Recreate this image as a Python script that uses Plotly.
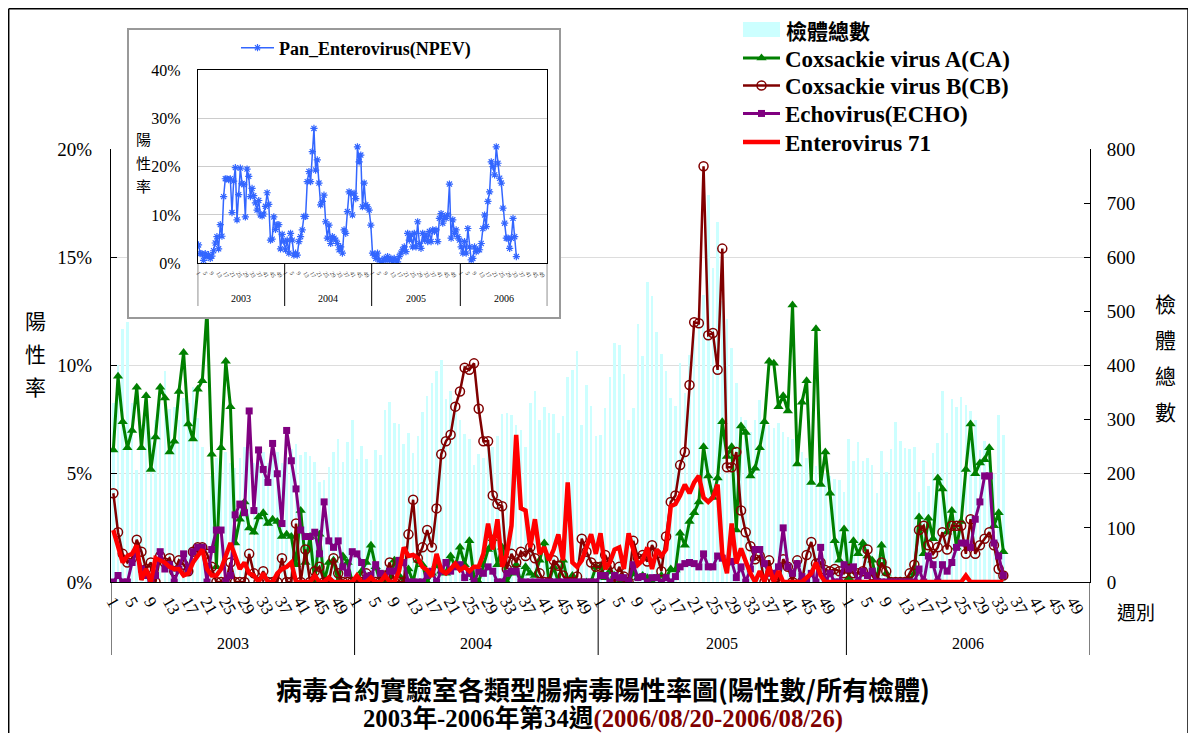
import plotly.graph_objects as go

# ---------------- data ----------------
YEARS = ["2003", "2004", "2005", "2006"]
WEEKS_PER_YEAR = [52, 52, 53, 52]
TICK_WEEKS = list(range(1, 50, 4))

# total specimens (right axis)
SPEC_2003 = [330, 401, 467, 481, 330, 207, 290, 310, 270, 300, 330, 390, 320, 324, 300, 340, 330, 361, 303, 250,
             152, 195, 230, 250, 240, 220, 210, 230, 250, 240, 220, 230, 240, 220, 230, 240, 220, 230, 245, 255,
             235, 241, 232, 222, 184, 188, 213, 240, 265, 222, 259, 300]
SPEC_2004 = [228, 251, 227, 115, 244, 235, 318, 333, 293, 292, 255, 275, 238, 270, 315, 344, 368, 389, 410, 339,
             352, 330, 300, 273, 265, 216, 236, 230, 260, 250, 270, 310, 313, 309, 290, 280, 250, 330, 352, 300,
             324, 313, 310, 275, 307, 378, 392, 427, 291, 364, 325, 270]
SPEC_2005 = [272, 321, 379, 441, 437, 384, 300, 321, 477, 418, 554, 529, 461, 421, 390, 340, 325, 404, 350, 420,
             470, 500, 530, 715, 580, 665, 520, 485, 432, 367, 304, 300, 278, 300, 336, 300, 290, 284, 293, 278,
             268, 265, 262, 241, 230, 220, 215, 205, 200, 195, 190, 188, 167]
SPEC_2006 = [264, 223, 258, 224, 230, 216, 164, 242, 204, 246, 295, 260, 248, 246, 250, 167, 226, 177, 238, 256,
             353, 275, 338, 323, 341, 327, 316, 300, 244, 260, 250, 200, 309, 272]

# positive rates (%)
CA_2003 = [6.1, 9.5, 7.4, 6.2, 7.0, 9.0, 6.2, 8.6, 5.2, 6.7, 9.0, 8.5, 6.0, 6.5, 8.8, 10.6, 7.3, 6.6, 8.9, 9.3,
           12.6, 5.9, 0.7, 6.2, 10.2, 8.1, 1.8, 2.9, 3.7, 2.5, 2.3, 3.0, 3.2, 2.7, 2.9, 2.8, 2.1, 2.2, 2.1, 0.8,
           3.3, 0.9, 2.1, 0.0, 2.2, 0.0, 0.9, 1.0, 0.0, 1.2, 0.9, 0.0]
CA_2004 = [0.0, 0.5, 0.9, 1.7, 0.7, 0.0, 0.0, 0.0, 1.0, 0.3, 0.0, 0.6, 0.0, 1.0, 0.8, 0.0, 0.4, 0.8, 0.5, 0.4,
           1.2, 0.7, 1.6, 0.8, 1.9, 0.2, 0.0, 0.8, 1.5, 2.0, 0.8, 1.6, 0.0, 0.4, 0.8, 0.0, 0.7, 0.4, 0.3, 1.0,
           1.8, 0.0, 0.7, 0.0, 1.0, 0.0, 0.3, 0.0, 0.0, 0.0, 0.0, 0.7]
CA_2005 = [0.7, 0.2, 0.5, 0.3, 0.0, 0.0, 0.0, 0.4, 0.2, 0.3, 0.2, 0.0, 0.2, 0.3, 0.2, 0.6, 0.55, 2.25, 1.7, 2.8,
           3.2, 3.7, 6.25, 4.9, 3.9, 4.8, 7.4, 5.8, 6.25, 2.4, 7.2, 6.9, 4.9, 5.25, 6.2, 7.4, 10.2, 10.1, 8.1, 8.6,
           7.9, 12.8, 5.45, 8.3, 9.3, 4.6, 11.7, 4.5, 6.0, 4.1, 1.9, 1.0, 2.45]
CA_2006 = [0.2, 1.9, 1.3, 1.8, 1.2, 1.0, 0.0, 1.7, 0.4, 0.0, 0.0, 0.0, 0.0, 0.1, 0.4, 3.0, 1.3, 2.95, 2.0, 4.8,
           4.3, 2.3, 3.3, 1.6, 2.8, 5.2, 7.3, 5.0, 5.5, 5.65, 6.2, 2.6, 3.2, 1.4]

CB_2003 = [4.1, 2.3, 1.3, 0.9, 1.1, 1.95, 1.4, 0.6, 0.9, 0.0, 1.2, 0.9, 1.1, 0.5, 1.0, 0.8, 0.5, 1.4, 1.6, 1.6,
           1.3, 0.7, 0.0, 0.0, 0.0, 0.9, 0.0, 0.0, 0.0, 1.3, 0.4, 0.0, 0.5, 0.0, 0.0, 0.0, 1.1, 0.0, 0.0, 2.7,
           0.0, 1.5, 0.0, 0.5, 0.7, 0.0, 0.0, 1.1, 0.4, 0.0, 0.0, 0.0]
CB_2004 = [0.0, 0.0, 0.4, 0.0, 0.0, 0.0, 0.3, 0.9, 0.0, 0.0, 0.0, 2.2, 3.8, 1.1, 1.6, 2.4, 1.6, 3.4, 5.9, 6.5,
           6.8, 8.1, 8.8, 9.9, 9.8, 10.1, 8.0, 6.5, 6.5, 4.0, 3.6, 3.5, 0.6, 1.3, 0.9, 1.4, 1.2, 1.6, 1.1, 0.4,
           0.0, 0.0, 1.0, 0.75, 0.3, 0.0, 0.0, 0.25, 2.0, 1.4, 0.9, 0.7]
CB_2005 = [0.7, 1.25, 0.8, 0.0, 0.7, 0.25, 0.0, 1.9, 1.1, 1.25, 0.95, 1.7, 1.3, 0.5, 2.1, 3.7, 4.0, 5.4, 6.0, 9.1,
           12.0, 11.95, 19.2, 11.4, 11.5, 9.8, 15.4, 5.3, 5.3, 6.0, 3.3, 2.3, 1.65, 1.05, 1.2, 0.0, 1.0, 0.0, 0.0,
           1.05, 0.7, 0.0, 1.0, 0.0, 1.25, 1.85, 0.85, 0.9, 0.55, 0.5, 0.6, 0.5, 0.4]
CB_2006 = [0.6, 0.4, 0.4, 0.5, 1.5, 0.3, 0.0, 0.9, 0.5, 0.0, 0.0, 0.0, 0.0, 0.4, 0.8, 2.4, 2.6, 1.7, 1.3, 1.6,
           2.3, 1.5, 2.6, 2.6, 2.6, 1.3, 2.9, 1.3, 1.7, 2.0, 2.3, 1.7, 0.6, 0.3]

ECHO_2003 = [0.0, 0.3, 0.0, 0.0, 0.9, 1.4, 0.6, 0.3, 0.0, 0.3, 1.4, 0.6, 0.8, 0.0, 0.6, 1.3, 0.5, 1.4, 1.6, 1.6,
             0.0, 1.5, 2.4, 2.4, 0.0, 0.3, 3.1, 3.6, 3.2, 7.9, 3.3, 6.1, 5.2, 4.6, 6.4, 5.0, 2.7, 7.0, 5.6, 4.3,
             2.4, 2.1, 2.1, 2.3, 1.3, 3.7, 1.9, 1.6, 1.9, 0.7, 0.4, 1.4]
ECHO_2004 = [1.3, 0.9, 0.2, 0.3, 0.8, 0.4, 0.3, 0.5, 0.5, 1.0, 0.9, 0.0, 0.0, 0.0, 0.0, 0.3, 0.5, 0.0, 0.5, 0.9,
             0.5, 0.7, 0.8, 0.2, 0.4, 0.0, 0.5, 0.4, 0.7, 0.5, 0.0, 0.0, 0.4, 0.5, 0.5, 0.0, 0.0, 0.0, 0.0, 0.0,
             0.0, 0.0, 0.0, 0.0, 0.0, 0.0, 0.0, 0.0, 0.0, 0.0, 0.0, 0.0]
ECHO_2005 = [0.3, 0.3, 0.0, 0.3, 0.2, 0.2, 0.0, 0.8, 0.2, 0.25, 0.0, 0.2, 0.2, 0.0, 0.2, 0.0, 0.25, 0.7, 0.85, 0.9,
             0.85, 0.7, 1.3, 0.7, 0.7, 1.2, 1.1, 0.9, 0.95, 0.2, 0.7, 0.0, 0.6, 1.5, 1.5, 0.85, 0.4, 0.4, 0.7, 2.5,
             0.7, 0.4, 0.85, 0.25, 0.0, 0.4, 0.0, 1.6, 0.0, 0.4, 0.0, 0.0, 0.8]
ECHO_2006 = [0.6, 0.7, 0.0, 0.5, 0.3, 0.5, 0.0, 0.0, 0.0, 0.0, 0.0, 0.0, 0.0, 0.0, 0.0, 0.6, 0.0, 1.2, 0.8, 0.0,
             0.8, 0.5, 0.9, 1.6, 1.8, 1.8, 1.6, 2.9, 3.7, 4.9, 4.9, 1.8, 1.2, 0.3]

EV71_2003 = [2.4, 1.6, 0.9, 1.2, 1.3, 1.7, 0.1, 0.6, 0.0, 1.1, 1.0, 0.9, 0.7, 0.6, 0.6, 0.3, 0.4, 0.9, 1.2, 1.5,
             0.6, 0.3, 0.3, 0.6, 1.2, 1.8, 1.2, 0.6, 0.9, 0.4, 0.3, 0.0, 0.4, 0.0, 0.0, 0.4, 0.6, 0.7, 0.9, 0.0,
             0.0, 0.0, 0.0, 0.3, 0.0, 0.0, 0.2, 0.0, 0.0, 0.0, 0.0, 0.0]
EV71_2004 = [0.3, 0.0, 0.0, 0.2, 0.0, 0.0, 0.3, 0.0, 0.0, 0.5, 1.6, 1.2, 1.25, 1.1, 0.7, 0.55, 0.25, 1.3, 0.55, 0.4,
             0.6, 0.85, 0.55, 0.7, 0.5, 0.7, 0.7, 1.3, 2.7, 1.5, 2.9, 0.7, 1.3, 2.6, 6.8, 3.4, 3.3, 1.6, 2.9, 1.3,
             1.6, 1.0, 1.5, 2.2, 1.0, 4.6, 0.9, 0.7, 1.0, 1.6, 2.2, 1.3]
EV71_2005 = [2.25, 0.6, 0.9, 1.5, 1.6, 0.6, 2.25, 1.5, 0.8, 1.0, 1.6, 0.6, 1.5, 1.2, 1.5, 3.5, 3.6, 4.0, 4.5, 4.1,
             4.6, 4.9, 3.9, 3.7, 3.9, 4.5, 1.3, 0.4, 2.7, 0.85, 1.55, 0.95, 0.4, 0.0, 0.5, 0.0, 0.7, 0.0, 0.5, 0.0,
             0.0, 0.0, 0.0, 0.0, 0.2, 0.4, 0.9, 0.3, 0.0, 0.0, 0.0, 0.0, 0.0]
EV71_2006 = [0.0, 0.0, 0.0, 0.0, 0.0, 0.0, 0.0, 0.0, 0.0, 0.0, 0.0, 0.0, 0.0, 0.0, 0.0, 0.0, 0.0, 0.0, 0.0, 0.0,
             0.0, 0.0, 0.0, 0.0, 0.0, 0.3, 0.0, 0.0, 0.0, 0.0, 0.0, 0.0, 0.0, 0.0]

# inset: Pan_Enterovirus (%)
NPEV_2003 = [3.8, 2.0, 2.0, 0.6, 2.0, 1.5, 1.8, 1.0, 1.5, 2.6, 4.2, 5.5, 3.0, 8.0, 5.6, 13.8, 17.5, 17.5, 17.3, 17.5,
             10.5, 17.0, 19.8, 9.0, 14.2, 19.7, 16.5, 16.3, 9.6, 19.5, 18.0, 13.8, 15.5, 14.0, 12.5, 11.0, 13.0, 10.0,
             9.8, 10.2, 11.8, 14.6, 12.2, 4.8, 5.0, 9.6, 7.0, 8.0, 8.0, 3.0, 6.0, 4.5]
NPEV_2004 = [2.8, 4.8, 2.1, 6.2, 4.8, 1.7, 2.1, 1.7, 4.5, 5.5, 6.9, 9.7, 9.7, 16.9, 19.0, 16.9, 23.1, 27.9, 19.3, 21.4,
             16.6, 12.1, 12.8, 14.1, 8.6, 5.2, 7.9, 4.1, 5.5, 5.2, 4.8, 4.1, 2.8, 3.4, 2.1, 6.9, 6.2, 10.7, 14.8, 14.5,
             10.0, 14.5, 13.4, 24.1, 21.0, 22.4, 11.7, 16.6, 12.1, 11.7, 11.0, 7.9]
NPEV_2005 = [2.1, 1.7, 1.0, 2.1, 0.7, 0.0, 0.3, 1.0, 0.7, 1.4, 0.7, 1.0, 0.3, 1.0, 0.7, 0.3, 1.4, 2.1, 2.8, 3.4,
             2.4, 6.2, 4.8, 5.9, 3.4, 6.2, 3.4, 8.6, 4.1, 3.1, 6.2, 4.8, 5.9, 4.5, 6.6, 4.5, 6.9, 6.6, 6.9, 4.5,
             9.3, 10.3, 8.3, 9.7, 9.3, 10.0, 16.4, 5.2, 9.0, 6.2, 6.9, 5.5, 4.8]
NPEV_2006 = [3.4, 2.1, 4.5, 2.1, 7.2, 3.4, 0.7, 1.0, 3.4, 2.4, 2.8, 2.8, 4.1, 7.2, 10.0, 7.6, 12.8, 14.8, 21.0, 20.0,
             18.3, 24.1, 20.7, 17.6, 16.6, 11.4, 8.3, 5.2, 5.2, 3.1, 5.2, 9.3, 5.5, 1.4]

SERIES_NAMES = ["Coxsackie virus A(CA)", "Coxsackie virus B(CB)", "Echovirus(ECHO)", "Enterovirus 71"]

# ---------------- helpers ----------------
# the page places the figure 8px from the top-left corner of the window
OX, OY = 8, 8
W, H = 1196 - OX, 733 - OY
OFFSETS = [sum(WEEKS_PER_YEAR[:i]) for i in range(len(WEEKS_PER_YEAR))]
N_TOTAL = sum(WEEKS_PER_YEAR)


def xs_of(yearly):
    out_x, out_y = [], []
    for yi, vals in enumerate(yearly):
        for wi, v in enumerate(vals):
            out_x.append(OFFSETS[yi] + wi)
            out_y.append(v)
    return out_x, out_y


def px(x):
    return (x - OX) / W


def py(y):
    return 1 - (y - OY) / H


tickvals, ticktext = [], []
for yi in range(len(YEARS)):
    for w in TICK_WEEKS:
        tickvals.append(OFFSETS[yi] + w - 1)
        ticktext.append(str(w))

SERIF = "Liberation Serif"
MIXED = "Liberation Serif, Noto Sans CJK TC"
CJK = "Noto Sans CJK TC"

fig = go.Figure()

# bars (specimens) on primary y (right side)
bx, by = xs_of([SPEC_2003, SPEC_2004, SPEC_2005, SPEC_2006])
fig.add_trace(go.Bar(x=bx, y=by, width=0.55, marker=dict(color="#CCFFFF", line=dict(width=0)),
                     showlegend=False, xaxis="x", yaxis="y", hoverinfo="skip"))

styles = [
    dict(color="#008000", width=3, marker=dict(symbol="triangle-up", size=9, color="#008000")),
    dict(color="#800000", width=2.5, marker=dict(symbol="circle-open", size=9, color="#800000",
                                                  line=dict(width=1.5, color="#800000"))),
    dict(color="#800080", width=3, marker=dict(symbol="square", size=7, color="#800080")),
    dict(color="#FF0000", width=4.5, marker=None),
]
datasets = [
    [CA_2003, CA_2004, CA_2005, CA_2006],
    [CB_2003, CB_2004, CB_2005, CB_2006],
    [ECHO_2003, ECHO_2004, ECHO_2005, ECHO_2006],
    [EV71_2003, EV71_2004, EV71_2005, EV71_2006],
]
legend_ids = ["legend", "legend3", "legend4", "legend5"]
legend_rows = [58, 85.5, 113.5, 142]
for name, st, ds, lid in zip(SERIES_NAMES, styles, datasets, legend_ids):
    lx, ly = xs_of(ds)
    kw = dict(x=lx, y=ly, name=name, xaxis="x", yaxis="y2", hoverinfo="skip", legend=lid,
              line=dict(color=st["color"], width=st["width"]))
    if st["marker"] is not None:
        kw["mode"] = "lines+markers"
        kw["marker"] = st["marker"]
    else:
        kw["mode"] = "lines"
    fig.add_trace(go.Scatter(**kw))

# cover subplot for the inset (white background)
fig.add_trace(go.Scatter(x=[0], y=[0], mode="markers", marker=dict(opacity=0), showlegend=False,
                         xaxis="x3", yaxis="y3", hoverinfo="skip"))

# inset trace
nx, ny = xs_of([NPEV_2003, NPEV_2004, NPEV_2005, NPEV_2006])
fig.add_trace(go.Scatter(x=nx, y=ny, name="Pan_Enterovirus(NPEV)", mode="lines+markers",
                         line=dict(color="#3366FF", width=1.5),
                         marker=dict(symbol="asterisk-open", size=6, color="#3366FF",
                                     line=dict(width=1.2, color="#3366FF")),
                         xaxis="x4", yaxis="y4", legend="legend2", hoverinfo="skip"))

# main plot geometry (reference pixels)
PL, PR, PT, PB = 111, 1090, 149, 582
# inset geometry
IL, IR, IT, IB = 128, 560, 29, 318
QL, QR, QT, QB = 197.7, 547.3, 70, 263.3

legend_common = dict(xanchor="left", yanchor="middle", bgcolor="rgba(0,0,0,0)",
                     font=dict(family=SERIF, size=23, color="black", weight="bold"),
                     itemwidth=37, borderwidth=0)
layout_legends = {}
for lid, row in zip(legend_ids, legend_rows):
    layout_legends[lid] = dict(x=px(738), y=py(row), **legend_common)

fig.update_layout(
    width=W, height=H,
    margin=dict(l=0, r=0, t=0, b=0),
    paper_bgcolor="white", plot_bgcolor="white",
    bargap=0,
    xaxis=dict(domain=[px(PL), px(PR)], range=[-0.5, N_TOTAL - 0.5], anchor="y",
               tickmode="array", tickvals=tickvals, ticktext=ticktext, tickangle=60,
               tickfont=dict(family=SERIF, size=17, color="black"), ticks="",
               showline=True, linecolor="black", linewidth=1, showgrid=False, zeroline=False,
               automargin=False, ticklabelstandoff=2),
    yaxis=dict(domain=[py(PB), py(PT)], range=[0, 800], side="right", anchor="x", dtick=100,
               ticks="inside", ticklen=6, tickcolor="black", showline=True, linecolor="black",
               showgrid=False, zeroline=False, tickfont=dict(family=SERIF, size=19, color="black"),
               automargin=False, ticklabelstandoff=12),
    yaxis2=dict(range=[0, 20], overlaying="y", side="left", anchor="x", dtick=5, ticksuffix="%",
                ticks="inside", ticklen=6, tickcolor="black", showline=True, linecolor="black",
                showgrid=True, gridcolor="#DDDDDD", gridwidth=1, zeroline=False,
                tickfont=dict(family=SERIF, size=19, color="black"), automargin=False,
                ticklabelstandoff=14),
    xaxis3=dict(domain=[px(IL), px(IR)], range=[0, 1], visible=False, anchor="y3"),
    yaxis3=dict(domain=[py(IB), py(IT)], range=[0, 1], visible=False, anchor="x3"),
    xaxis4=dict(domain=[px(QL), px(QR)], range=[-0.5, N_TOTAL - 0.5], anchor="y4",
                tickmode="array", tickvals=tickvals, ticktext=ticktext, tickangle=60,
                tickfont=dict(family=SERIF, size=6, color="#333333"), ticks="",
                showline=True, linecolor="black", linewidth=1, mirror=True,
                showgrid=False, zeroline=False, automargin=False, ticklabelstandoff=3),
    yaxis4=dict(domain=[py(QB), py(QT)], range=[0, 40], anchor="x4", dtick=10, ticksuffix="%",
                ticks="", showline=True, linecolor="black", linewidth=1, mirror=True,
                showgrid=True, gridcolor="#CCCCCC", zeroline=False,
                tickfont=dict(family=SERIF, size=16, color="black"), automargin=False,
                ticklabelstandoff=13),
    legend2=dict(x=px(236), y=py(48), xanchor="left", yanchor="middle", bgcolor="rgba(0,0,0,0)",
                 font=dict(family=SERIF, size=18, color="black", weight="bold"), itemwidth=33),
    **layout_legends,
)

shapes = []
annotations = []


def note(x, y, text, font, xref="paper", xanchor="center"):
    annotations.append(dict(x=x, y=y, xref=xref, yref="paper", text=text, showarrow=False,
                            xanchor=xanchor, yanchor="middle", font=font))


# outer frame
shapes.append(dict(type="line", xref="paper", yref="paper", x0=px(8.7), x1=px(8.7), y0=-0.01, y1=py(8.7),
                   line=dict(color="black", width=1.5), layer="above"))
shapes.append(dict(type="line", xref="paper", yref="paper", x0=px(8.7), x1=px(1188), y0=py(8.7), y1=py(8.7),
                   line=dict(color="black", width=1.5), layer="above"))
shapes.append(dict(type="line", xref="paper", yref="paper", x0=px(1188), x1=px(1188), y0=-0.01, y1=py(8.7),
                   line=dict(color="black", width=1.5), layer="above"))

# main category separators and year labels
bounds = [-0.5] + [OFFSETS[i] - 0.5 for i in range(1, len(YEARS))] + [N_TOTAL - 0.5]
for b in bounds:
    shapes.append(dict(type="line", xref="x", yref="paper", x0=b, x1=b, y0=py(655), y1=py(582),
                       line=dict(color="black", width=1)))
for yi, yr in enumerate(YEARS):
    cx = OFFSETS[yi] + WEEKS_PER_YEAR[yi] / 2 - 0.5
    note(cx, py(643), yr, dict(family=SERIF, size=16, color="black"), xref="x")

# inset separators and year labels
for b in bounds:
    shapes.append(dict(type="line", xref="x4", yref="paper", x0=b, x1=b, y0=py(306), y1=py(QB),
                       line=dict(color="black", width=1), layer="above"))
for yi, yr in enumerate(YEARS):
    cx = OFFSETS[yi] + WEEKS_PER_YEAR[yi] / 2 - 0.5
    note(cx, py(299), yr, dict(family=SERIF, size=10, color="black"), xref="x4")

# inset border
shapes.append(dict(type="rect", xref="paper", yref="paper", x0=px(IL), x1=px(IR), y0=py(IB), y1=py(IT),
                   line=dict(color="#999999", width=2), layer="above"))

# manual legend entry for specimens
shapes.append(dict(type="rect", xref="paper", yref="paper", x0=px(743), x1=px(780), y0=py(37), y1=py(22),
                   fillcolor="#CCFFFF", line=dict(width=0), layer="above"))
note(px(784), py(30), "檢體總數", dict(family=CJK, size=21, color="black", weight="bold"), xanchor="left")

# axis titles
for i, ch in enumerate("陽性率"):
    note(px(35), py(320 + i * 33), ch, dict(family=CJK, size=21, color="black"))
for i, ch in enumerate("檢體總數"):
    note(px(1165), py(303 + i * 36), ch, dict(family=CJK, size=21, color="black"))
for i, ch in enumerate("陽性率"):
    note(px(143), py(139 + i * 23.5), ch, dict(family=CJK, size=15, color="black"))
note(px(1136), py(611), "週別", dict(family=CJK, size=19, color="black"))

# titles
note(px(603), py(688), "病毒合約實驗室各類型腸病毒陽性率圖(陽性數/所有檢體)",
     dict(family=CJK, size=26, color="black", weight="bold"))
note(px(603), py(719),
     "2003年-2006年第34週<span style='color:#800000'>(2006/08/20-2006/08/26)</span>",
     dict(family=MIXED, size=24.7, color="black", weight="bold"))

fig.update_layout(shapes=shapes, annotations=annotations)

fig.write_html("out.html")
